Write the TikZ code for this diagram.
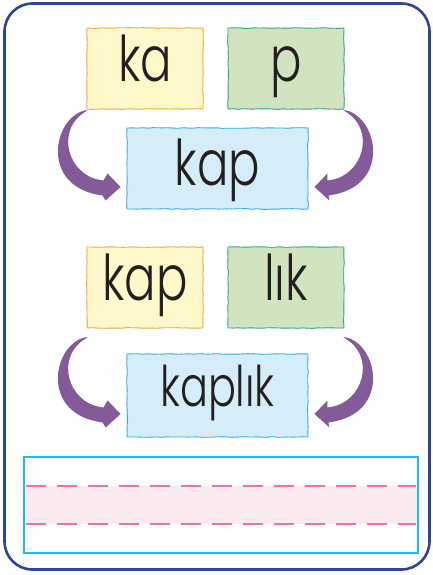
\documentclass[tikz,border=0pt]{standalone}
\usepackage{fontspec}
\setmainfont{Poppins}[UprightFont=* Light, FakeStretch=0.74]
\usetikzlibrary{calc,decorations.pathmorphing}
\definecolor{framec}{RGB}{46,68,148}
\definecolor{arrowc}{RGB}{131,91,152}
\definecolor{yelfill}{RGB}{255,248,202}
\definecolor{yeldraw}{RGB}{242,162,60}
\definecolor{grnfill}{RGB}{210,227,192}
\definecolor{grndraw}{RGB}{42,165,132}
\definecolor{blufill}{RGB}{213,237,249}
\definecolor{bludraw}{RGB}{52,169,225}
\definecolor{writec}{RGB}{30,191,240}
\definecolor{dashc}{RGB}{239,111,166}
\definecolor{bandc}{RGB}{252,234,241}
\definecolor{ink}{RGB}{35,31,32}
\newcommand\bendarrow[3]{%
  \fill[arrowc] ($(#1)+({#3*-2},1)$)
   .. controls ($(#1)+({#3*-34},9)$) and ($(#1)+({#3*-47},78)$) .. ($(#1)+({#3*16},86)$)
   -- ($(#2)+({#3*-21},32)$) -- ($(#2)+({#3*-6},18.5)$) -- ($(#2)+({#3*-19},5)$)
   -- ($(#1)+({#3*17},71)$)
   .. controls ($(#1)+({#3*-19},68)$) and ($(#1)+({#3*-33},19)$) .. ($(#1)+({#3*1},1)$) -- cycle;}
\begin{document}
\begin{tikzpicture}[x=1pt,y=-1pt,
  tile/.style={minimum width=116pt, minimum height=81pt, inner sep=0pt,
    line width=0.9pt, text height=40pt, text=ink,
    font=\fontsize{63}{65}\selectfont,
    decorate, decoration={random steps,segment length=5pt,amplitude=0.35pt}},
  yel/.style={tile, fill=yelfill, draw=yeldraw},
  grn/.style={tile, fill=grnfill, draw=grndraw},
  blu/.style={tile, fill=blufill, draw=bludraw, minimum width=181pt}]
\useasboundingbox (0,0) rectangle (432,575);
\draw[framec, line width=2.6pt, rounded corners=28pt] (4.5,3.5) rectangle (429.5,569.5);
% row 1
\node[yel, text depth=13pt] (ka) at (145,68.5) {ka};
\node[grn, text depth=13pt] (p) at (286,68.5) {p};
\node[blu, text depth=7pt] (kap) at (217.5,168.5) {kap};
\bendarrow{ka.south west}{kap.west}{1}
\bendarrow{p.south east}{kap.east}{-1}
% row 2
\node[yel, text depth=15pt] (kap2) at (145,287.5) {kap};
\node[grn, text depth=15pt] (lik) at (286,287.5) {lık};
\node[blu, minimum height=83pt, text depth=19pt, font=\fontsize{56}{58}\selectfont] (kaplik) at (217.5,395.5) {kaplık};
\coordinate (s3) at ($(kap2.south west)+(0,8)$);
\coordinate (s4) at ($(lik.south east)+(0,8)$);
\bendarrow{s3}{kaplik.west}{1}
\bendarrow{s4}{kaplik.east}{-1}
% writing lines
\fill[bandc] (25.5,486) rectangle (416.5,524);
\draw[dashc, line width=2.4pt, dash pattern=on 20pt off 11pt] (26,486) -- (416,486);
\draw[dashc, line width=2.4pt, dash pattern=on 20pt off 11pt] (26,524) -- (416,524);
\draw[writec, line width=2.4pt] (24,457) rectangle (418,553);
\end{tikzpicture}
\end{document}
